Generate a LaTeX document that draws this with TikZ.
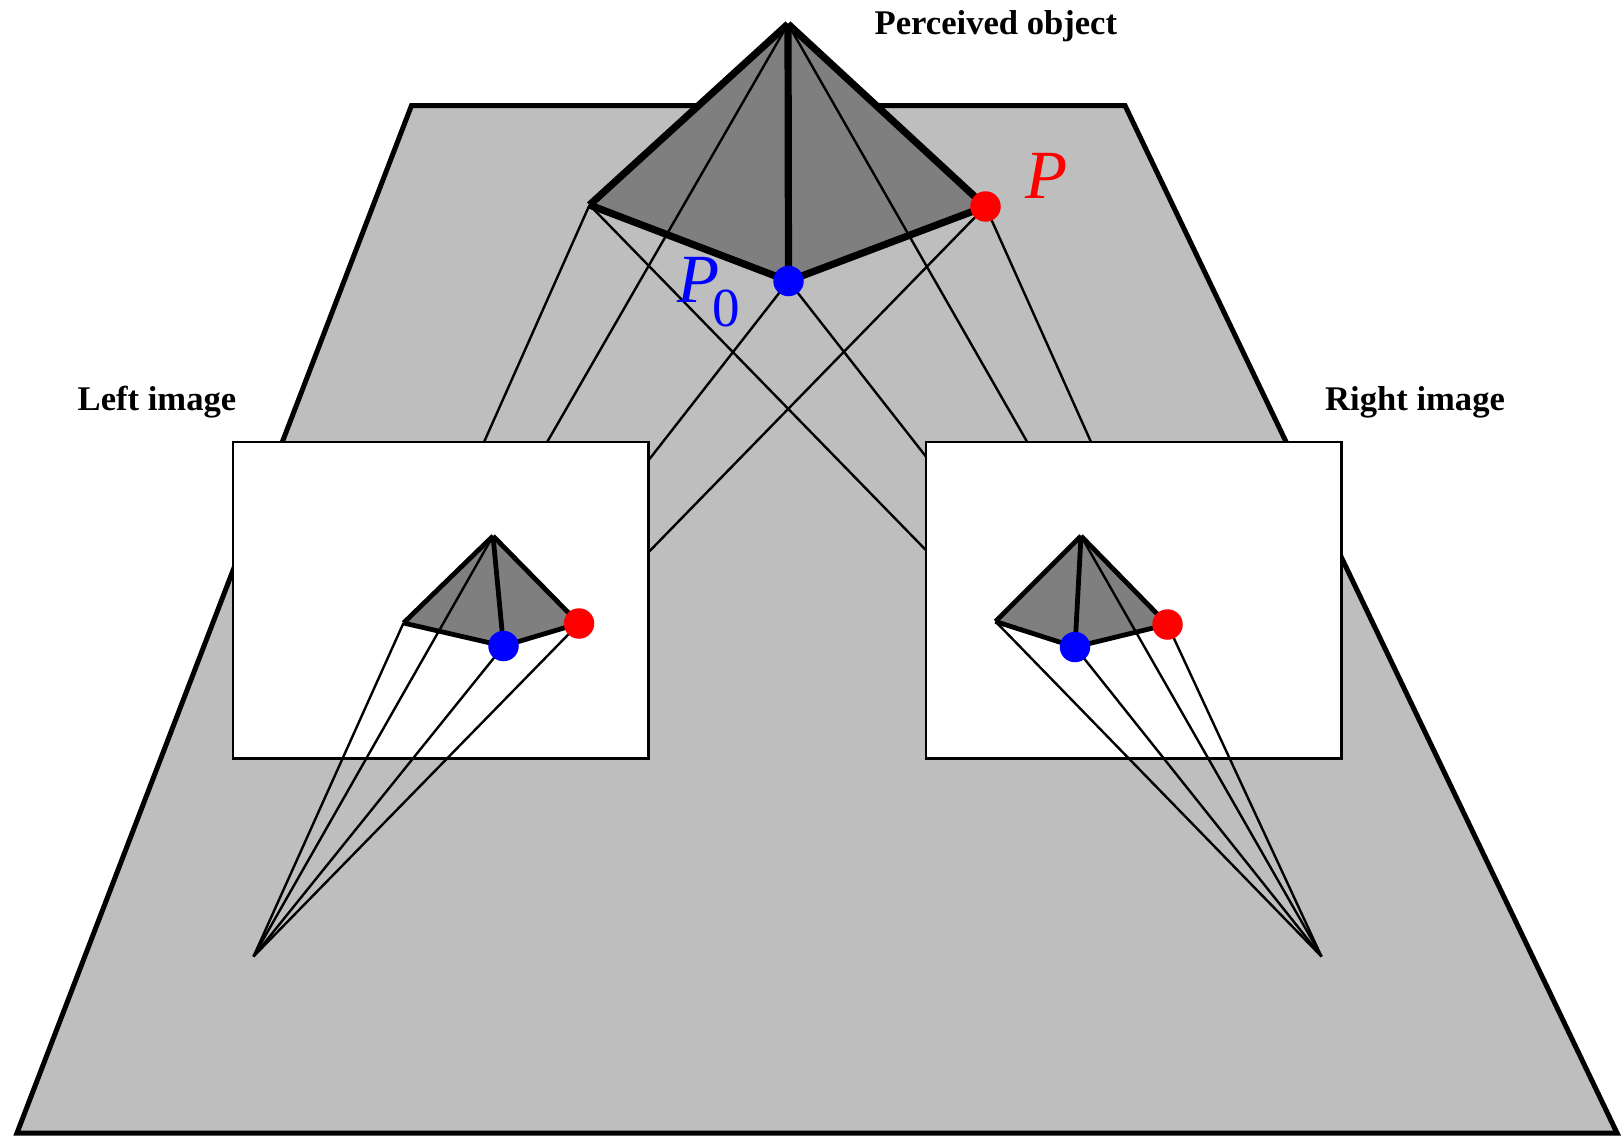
\documentclass[tikz,border=0pt]{standalone}
\usepackage{fontspec}
\setmainfont{Liberation Serif}
\definecolor{planegray}{RGB}{190,190,190}
\definecolor{objgray}{RGB}{127,127,127}
\tikzset{
  plane/.style={draw=black,fill=planegray,line width=5pt,line join=miter},
  imgbox/.style={draw=black,fill=white,line width=2.6pt},
  objfill/.style={fill=objgray},
  ray/.style={draw=black,line width=2.4pt},
  thickedge/.style={draw=black,line width=7.2pt,line cap=square},
  smalledge/.style={draw=black,line width=4.8pt,line cap=square},
  pdot/.style={circle,fill=#1,minimum size=30.5pt,inner sep=0pt,outer sep=0pt},
  title/.style={anchor=base west,inner sep=0pt,font=\fontsize{34.6pt}{36pt}\selectfont\bfseries},
  plabel/.style={anchor=base west,inner sep=0pt,text=#1}
}
\begin{document}
\begin{tikzpicture}[x=1pt,y=-1pt]
\useasboundingbox (0,0) rectangle (1621,1135);
% ground plane
\coordinate (pa) at (17,1133);
\coordinate (pb) at (411.5,105.5);
\coordinate (pc) at (1125,105.5);
\coordinate (pd) at (1617,1133);
\path[plane] (pa) -- (pb) -- (pc) -- (pd) -- cycle;
% eyes
\coordinate (fl) at (253.5,956.5);
\coordinate (fr) at (1321.5,956.5);
% object
\coordinate (oA) at (788,24);
\coordinate (oL) at (589.5,205);
\coordinate (oF) at (788.5,281);
\coordinate (oP) at (985.5,206.5);
% left image points
\coordinate (lA) at (493,536);
\coordinate (lL) at (403.5,623);
\coordinate (lF) at (503.5,646);
\coordinate (lP) at (579,623.5);
% right image points
\coordinate (rA) at (1081,536);
\coordinate (rL) at (995.5,621.5);
\coordinate (rF) at (1075,647);
\coordinate (rP) at (1167.5,624.5);
% hidden end of the ray from P towards the right eye, behind the right frame
\coordinate (rPh) at (1153.5,581.5);
\path[objfill] (oA) -- (oL) -- (oF) -- (oP) -- cycle;
\foreach \p in {A,L,F,P}{\draw[ray] (o\p) -- (l\p);}
\foreach \p in {A,L,F}{\draw[ray] (o\p) -- (r\p);}
\draw[ray] (oP) -- (rPh);
\draw[thickedge] (oA) -- (oL);
\draw[thickedge] (oL) -- (oF);
\draw[thickedge] (oF) -- (oP);
\draw[thickedge] (oP) -- (oA);
\draw[thickedge] (oA) -- (oF);
\node[pdot=blue] (dF) at (oF) {};
\node[pdot=red] (dP) at (oP) {};
% image frames
\node[imgbox,minimum width=415.5pt,minimum height=316.5pt,inner sep=0pt,anchor=north west] (li) at (231.8,440.8) {};
\node[imgbox,minimum width=415.5pt,minimum height=316.5pt,inner sep=0pt,anchor=north west] (ri) at (924.8,440.8) {};
% left image
\path[objfill] (lA) -- (lL) -- (lF) -- (lP) -- cycle;
\foreach \p in {A,L,F,P}{\draw[ray] (l\p) -- (fl);}
\draw[smalledge] (lA) -- (lL);
\draw[smalledge] (lL) -- (lF);
\draw[smalledge] (lF) -- (lP);
\draw[smalledge] (lP) -- (lA);
\draw[smalledge] (lA) -- (lF);
\node[pdot=blue] (dlF) at (lF) {};
\node[pdot=red] (dlP) at (lP) {};
% right image
\path[objfill] (rA) -- (rL) -- (rF) -- (rP) -- cycle;
\foreach \p in {A,L,F,P}{\draw[ray] (r\p) -- (fr);}
\draw[smalledge] (rA) -- (rL);
\draw[smalledge] (rL) -- (rF);
\draw[smalledge] (rF) -- (rP);
\draw[smalledge] (rP) -- (rA);
\draw[smalledge] (rA) -- (rF);
\node[pdot=blue] (drF) at (rF) {};
\node[pdot=red] (drP) at (rP) {};
% labels
\node[title] (t1) at (874.5,34.5) {Perceived object};
\node[title] (t2) at (77.5,410.5) {Left image};
\node[title] (t3) at (1325,410.5) {Right image};
\node[plabel=red,font=\fontsize{69pt}{70pt}\selectfont\itshape] (lp) at (1025,198.5) {P};
\node[plabel=blue,font=\fontsize{69pt}{70pt}\selectfont] (lp0) at (677,302) {\textit{P}\kern-6.5pt\raisebox{-24pt}{\fontsize{55pt}{56pt}\selectfont 0}};
\end{tikzpicture}
\end{document}
